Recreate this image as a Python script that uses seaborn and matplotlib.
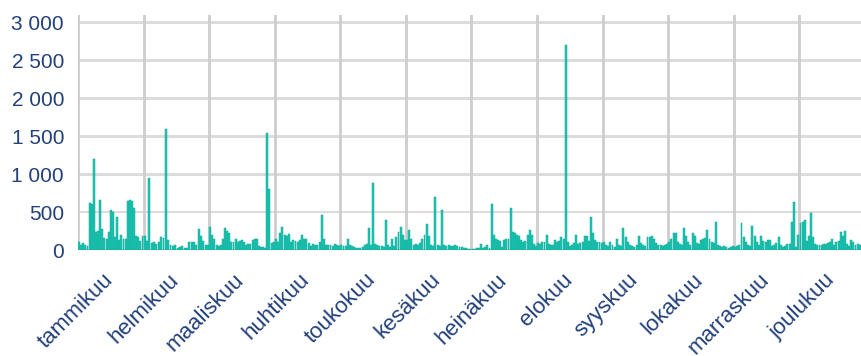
import numpy as np
import pandas as pd
import matplotlib
matplotlib.use("Agg")
import matplotlib.pyplot as plt
import matplotlib.transforms as mtransforms
import seaborn as sns
from matplotlib.ticker import FuncFormatter

# Finnish month names used as category labels
months = ["tammikuu", "helmikuu", "maaliskuu", "huhtikuu", "toukokuu", "kesäkuu",
          "heinäkuu", "elokuu", "syyskuu", "lokakuu", "marraskuu", "joulukuu"]

# Daily values, one list per month
jan = [110, 60, 90, 70, 50, 620, 610, 1200, 240, 250, 660, 280, 160, 150, 240, 530,
       500, 170, 430, 130, 200, 150, 150, 640, 660, 650, 560, 180, 170, 120, 180]
feb = [180, 120, 950, 90, 100, 80, 110, 170, 160, 1600, 130, 70, 50, 60, 30, 40,
       50, 30, 20, 110, 110, 100, 70, 280, 180, 120, 70, 60]
mar = [300, 200, 150, 60, 50, 65, 150, 285, 250, 220, 110, 100, 150, 110, 120, 130,
       100, 65, 80, 80, 130, 140, 140, 50, 40, 45, 30, 1550, 800, 90, 110]
apr = [150, 110, 220, 300, 200, 180, 210, 110, 130, 120, 110, 130, 200, 150, 150,
       90, 50, 80, 70, 60, 110, 460, 150, 70, 60, 65, 50, 80, 60, 50]
may = [65, 55, 50, 150, 60, 50, 35, 30, 20, 25, 40, 60, 80, 285, 70, 880, 80, 60,
       50, 55, 40, 400, 60, 40, 140, 50, 175, 240, 300, 200, 130]
jun = [130, 270, 150, 60, 80, 70, 90, 150, 200, 340, 180, 60, 50, 700, 60, 50, 530,
       60, 50, 60, 55, 50, 60, 50, 40, 45, 30, 20, 15, 10]
jul = [15, 10, 20, 25, 80, 30, 40, 65, 20, 610, 200, 150, 130, 120, 40, 130, 150,
       140, 550, 240, 220, 200, 180, 130, 110, 120, 200, 260, 200, 80, 50]
aug = [90, 80, 100, 110, 200, 80, 60, 60, 130, 100, 120, 175, 150, 2700, 110, 50,
       70, 90, 200, 80, 90, 100, 190, 180, 120, 440, 220, 130, 100, 110, 90]
sep = [100, 60, 50, 110, 70, 40, 150, 60, 50, 285, 165, 110, 70, 50, 40, 60, 185,
       90, 60, 50, 175, 170, 185, 140, 90, 70, 60, 50, 70, 80]
oct_ = [110, 150, 220, 230, 100, 80, 60, 285, 180, 110, 70, 220, 180, 90, 80, 130,
        150, 160, 260, 140, 100, 90, 370, 60, 50, 40, 50, 40, 30, 40, 50]
nov = [40, 50, 60, 350, 165, 100, 60, 50, 320, 185, 100, 60, 185, 120, 110, 130,
       130, 50, 60, 90, 165, 60, 40, 50, 80, 80, 370, 630, 45, 200]
dec = [350, 370, 395, 120, 180, 490, 175, 80, 70, 60, 70, 75, 80, 90, 100, 140, 70,
       100, 120, 240, 190, 250, 80, 50, 130, 110, 70, 80, 70, 60, 50]

monthly = [jan, feb, mar, apr, may, jun, jul, aug, sep, oct_, nov, dec]
y_ticks = [0, 500, 1000, 1500, 2000, 2500, 3000]

# Each month occupies one unit band on the x axis; days spread evenly inside it
rows = []
for m, vals in enumerate(monthly):
    n = len(vals)
    for d, v in enumerate(vals):
        rows.append({"pos": m + (d + 0.5) / n, "value": v})
df = pd.DataFrame(rows)

plt.rcParams["font.family"] = ["Liberation Sans", "DejaVu Sans"]

fig = plt.figure(figsize=(8.62, 3.56), dpi=100, facecolor="white")
ax = fig.add_axes([78 / 862, 106 / 356, 787 / 862, 235 / 356])

sns.barplot(data=df, x="pos", y="value", native_scale=True, errorbar=None,
            color="#1CC4B2", saturation=1, width=0.92,
            edgecolor="#12A999", linewidth=0.35, ax=ax, zorder=3)

ax.set_xlim(0, 12)
ax.set_ylim(0, 3100)

# Horizontal value bands (thin) and vertical month boundaries, behind the bars
band = 18
for yv in y_ticks:
    ax.axhspan(yv - band, yv + band, color="#DCDCDC", linewidth=0, zorder=1)
for xv in range(13):
    ax.axvline(xv, color="#CDCDCD", linewidth=2.0, zorder=1.5)

ax.set_xlabel("")
ax.set_ylabel("")

label_color = "#22407A"
ax.set_yticks(y_ticks)
ax.yaxis.set_major_formatter(FuncFormatter(lambda v, _: f"{int(v):,}".replace(",", " ")))
ax.set_xticks(np.arange(12) + 0.5)
ax.set_xticklabels(months, rotation=45, ha="right", va="top", rotation_mode="anchor")

ax.tick_params(axis="y", left=False, length=0, pad=10, labelsize=15, labelcolor=label_color)
ax.tick_params(axis="x", bottom=False, length=0, pad=14, labelsize=16, labelcolor=label_color)

# nudge month labels slightly left
offset = mtransforms.ScaledTranslation(-6 / 72, 0, fig.dpi_scale_trans)
for lab in ax.get_xticklabels():
    lab.set_transform(lab.get_transform() + offset)

ax.grid(False)
for s in ax.spines.values():
    s.set_visible(False)

fig.savefig("out.png", dpi=100, facecolor="white")
